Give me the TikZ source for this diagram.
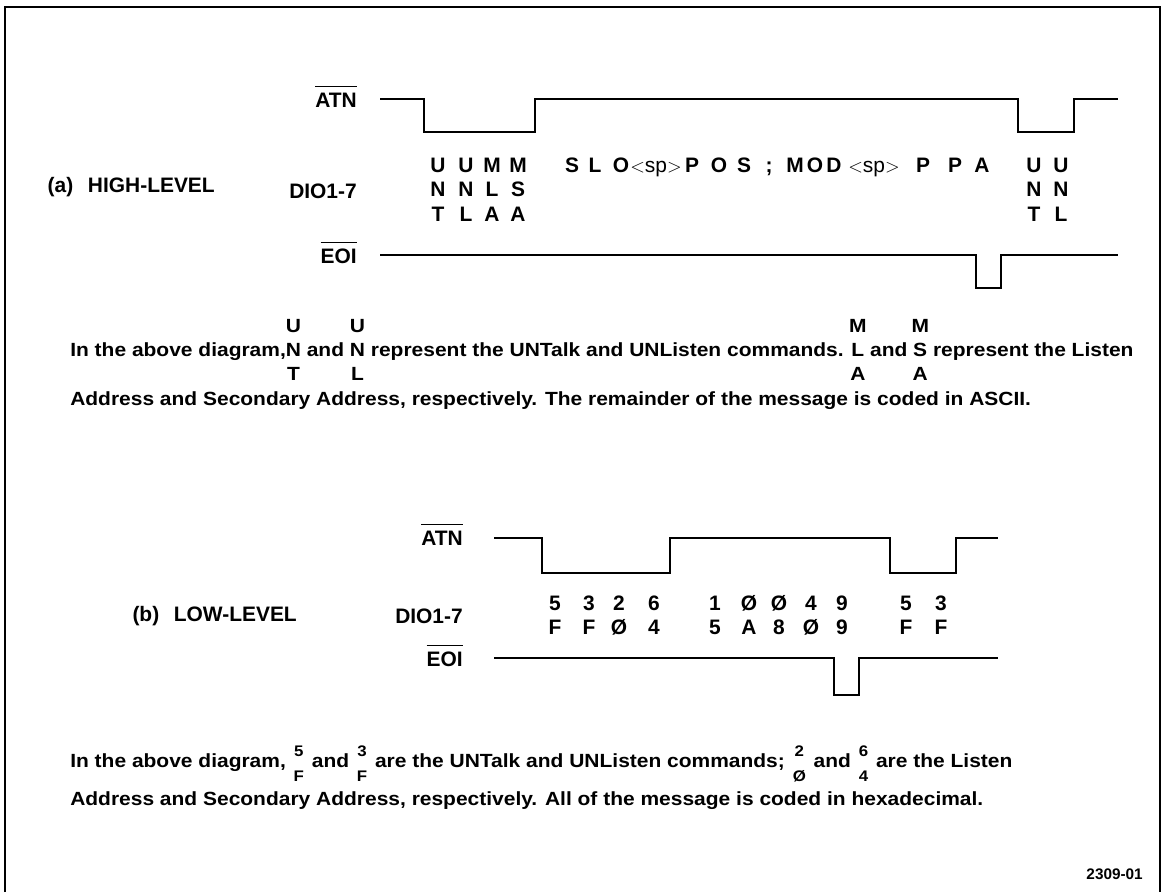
\documentclass[tikz,border=0pt]{standalone}
\usepackage{fontspec}
\setmainfont{Liberation Sans}
\newfontfamily\notefont[FakeStretch=1.1]{Liberation Sans}
\usepackage{tikz}

\newlength\stkw
% letter with one letter above and one below
\newcommand\stk[3]{\settowidth\stkw{#2}\rlap{\makebox[\stkw]{\raisebox{18pt}{#1}}}\rlap{\makebox[\stkw]{\raisebox{-18pt}{#3}}}#2}
% small digit pair, one over the other
\newcommand\frc[2]{\hspace{1.5pt}{\fontsize{11.5}{14}\selectfont\settowidth\stkw{#2}\rlap{\makebox[\stkw]{\raisebox{7.7pt}{#1}}}\makebox[\stkw]{\raisebox{-11pt}{#2}}}\hspace{1.5pt}}
% signal name with bar
\newcommand\ovl[1]{\settowidth\stkw{#1}\rlap{\rule[15.5pt]{\stkw}{0.6pt}}#1}

\begin{document}
\begin{tikzpicture}[x=0.75pt, y=-0.75pt,
		lbl/.style={font=\fontsize{15.7}{18.4}\selectfont\bfseries, inner sep=0pt},
		col/.style={lbl, align=center},
		txt/.style={font=\notefont\fontsize{14.3}{17}\selectfont\bfseries, inner sep=0pt, anchor=base west},
		wave/.style={line width=1.3pt, line join=miter}]
				\useasboundingbox (0,0) rectangle (1162,892);
				\draw[line width=1.8pt] (5,892) -- (5,7) -- (1160,7) -- (1160,892);
				
				% (a) high level
				\node[lbl, anchor=base east] (atnA) at (357,107.5) {\ovl{ATN}};
				\node[lbl, anchor=base east] (levA) at (215,192.5) {(a)\hspace{0.7em}HIGH-LEVEL};
				\node[lbl, anchor=base east] (dioA) at (357,198.5) {DIO1-7};
				\node[lbl, anchor=base east] (eoiA) at (357,263.5) {\ovl{EOI}};
				
				\draw[wave] (380,99) -- (424,99) -- (424,132) -- (535,132) -- (535,99) -- (1018,99) -- (1018,132) -- (1074,132) -- (1074,99) -- (1118,99);
				\draw[wave] (380,255) -- (976,255) -- (976,288) -- (1001,288) -- (1001,255) -- (1118,255);
				
				\node[col] (untA) at (438,192) {\strut U\\N\\\strut T};
				\node[col] (unlA) at (466,192) {\strut U\\N\\\strut L};
				\node[col] (mla) at (492,192) {\strut M\\L\\\strut A};
				\node[col] (msa) at (518,192) {\strut M\\S\\\strut A};
				\node[col] (untB) at (1034,192) {\strut U\\N\\\strut T};
				\node[col] (unlB) at (1061,192) {\strut U\\N\\\strut L};
				\foreach \t/\x [count=\i] in {S/572, L/595, O/621, {\mdseries$<$sp$>$}/656, P/692, O/719, S/744, ;/769, M/795, O/815, D/834, {\mdseries$<$sp$>$}/874, P/923, P/955, A/982}
					\node[lbl, anchor=base] (msg\i) at (\x,172.5) {\t};
				
				\node[txt] (noteA1) at (70,356) {In the above diagram,\stk{U}{N}{T} and \stk{U}{N}{L} represent the UNTalk and UNListen commands. \stk{M}{L}{A} and \stk{M}{S}{A} represent the Listen};
				\node[txt] (noteA2) at (70,405) {Address and Secondary Address, respectively. The remainder of the message is coded in ASCII.};
				
				% (b) low level
				\node[lbl, anchor=base east] (atnB) at (463,545.5) {\ovl{ATN}};
				\node[lbl, anchor=base east] (levB) at (297,621.5) {(b)\hspace{0.7em}LOW-LEVEL};
				\node[lbl, anchor=base east] (dioB) at (463,623.5) {DIO1-7};
				\node[lbl, anchor=base east] (eoiB) at (463,666.5) {\ovl{EOI}};
				
				\draw[wave] (494,538) -- (542,538) -- (542,573) -- (670,573) -- (670,538) -- (890,538) -- (890,573) -- (956,573) -- (956,538) -- (998,538);
				\draw[wave] (494,658) -- (834,658) -- (834,695) -- (859,695) -- (859,658) -- (998,658);
				
				\foreach \ra/\rb/\x [count=\i] in {5/F/555, 3/F/589, 2/Ø/619, 6/4/654, 1/5/715, Ø/A/749, Ø/8/779, 4/Ø/811, 9/9/842, 5/F/906, 3/F/941}
					\node[col] (hex\i) at (\x,617.6) {\strut\ra\\\strut\rb};
				
				\node[txt] (noteB1) at (70,767) {In the above diagram, \frc{5}{F} and \frc{3}{F} are the UNTalk and UNListen commands; \frc{2}{Ø} and \frc{6}{4} are the Listen};
				\node[txt] (noteB2) at (70,805) {Address and Secondary Address, respectively. All of the message is coded in hexadecimal.};
				
				\node[lbl, anchor=base east, font=\fontsize{11.5}{14}\selectfont\bfseries] (fig) at (1143,879) {2309-01};
			\end{tikzpicture}
\end{document}
